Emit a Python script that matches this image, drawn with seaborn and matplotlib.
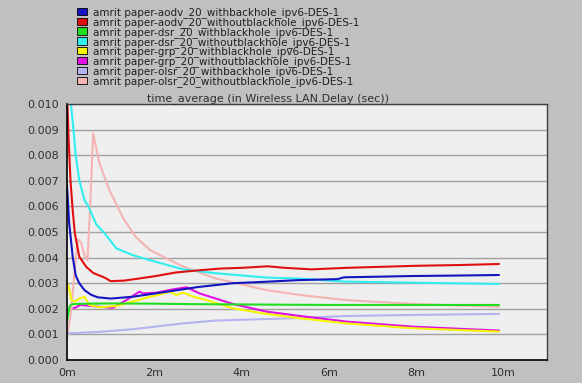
import numpy as np
import pandas as pd
import matplotlib
matplotlib.use("Agg")
import matplotlib.pyplot as plt
from matplotlib.patches import Patch
import seaborn as sns

# simulation time in minutes, delay in milliseconds (scaled to sec below)
aodv_with_t = [0, 0.05, 0.13, 0.2, 0.28, 0.4, 0.55, 0.7, 1.0, 1.5, 2.3, 3.0, 3.8, 4.6, 5.3, 6.2, 6.35, 7.0, 7.9, 9.0, 9.9]
aodv_with_v = [6.84, 5.35, 4.04, 3.3, 3.0, 2.73, 2.55, 2.45, 2.4, 2.47, 2.67, 2.85, 3.0, 3.06, 3.12, 3.16, 3.23, 3.25, 3.28, 3.3, 3.32]

aodv_without_t = [0, 0.04, 0.08, 0.13, 0.18, 0.28, 0.44, 0.6, 0.86, 1.0, 1.3, 1.6, 2.0, 2.5, 3.0, 3.5, 4.0, 4.6, 5.0, 5.6, 6.4, 7.0, 8.0, 9.0, 9.9]
aodv_without_v = [10.5, 8.5, 7.0, 5.86, 4.95, 4.04, 3.64, 3.4, 3.22, 3.08, 3.1, 3.17, 3.27, 3.42, 3.5, 3.57, 3.6, 3.66, 3.6, 3.54, 3.6, 3.63, 3.68, 3.71, 3.75]

dsr_with_t = [0, 0.03, 0.06, 0.1, 0.2, 0.5, 1.0, 2.0, 3.0, 4.0, 5.0, 6.0, 7.0, 8.0, 9.0, 9.9]
dsr_with_v = [1.5, 1.8, 2.1, 2.17, 2.19, 2.2, 2.21, 2.2, 2.18, 2.17, 2.16, 2.15, 2.15, 2.15, 2.15, 2.15]

dsr_without_t = [0.07, 0.09, 0.15, 0.2, 0.28, 0.4, 0.49, 0.67, 0.86, 1.13, 1.5, 1.9, 2.66, 3.4, 4.57, 5.34, 6.4, 7.94, 9.9]
dsr_without_v = [10.5, 10.0, 8.98, 8.0, 7.03, 6.25, 6.0, 5.3, 4.95, 4.36, 4.1, 3.9, 3.54, 3.39, 3.22, 3.18, 3.06, 3.02, 2.97]

grp_with_t = [0, 0.05, 0.1, 0.17, 0.28, 0.4, 0.51, 0.74, 1.13, 1.5, 1.9, 2.1, 2.35, 2.5, 2.66, 2.9, 3.2, 3.8, 4.57, 5.34, 6.4, 7.94, 9.9]
grp_with_v = [3.0, 2.8, 2.35, 2.28, 2.4, 2.47, 2.15, 2.06, 2.11, 2.28, 2.47, 2.54, 2.67, 2.54, 2.63, 2.47, 2.34, 2.02, 1.8, 1.63, 1.43, 1.24, 1.11]

grp_without_t = [0.15, 0.2, 0.3, 0.5, 0.74, 1.05, 1.36, 1.66, 1.74, 2.05, 2.43, 2.74, 3.04, 3.8, 4.57, 5.34, 6.4, 7.94, 9.9]
grp_without_v = [2.03, 2.05, 2.15, 2.12, 2.08, 2.04, 2.34, 2.67, 2.6, 2.63, 2.76, 2.84, 2.6, 2.19, 1.89, 1.72, 1.5, 1.3, 1.15]

olsr_with_t = [0, 0.74, 1.5, 1.9, 2.66, 3.4, 4.57, 5.34, 6.4, 7.94, 9.9]
olsr_with_v = [1.04, 1.1, 1.2, 1.28, 1.43, 1.54, 1.6, 1.64, 1.72, 1.76, 1.8]

olsr_without_t = [0, 0.03, 0.08, 0.12, 0.18, 0.25, 0.32, 0.4, 0.47, 0.53, 0.6, 0.74, 0.97, 1.3, 1.58, 1.9, 2.66, 3.4, 4.57, 5.34, 6.4, 7.94, 9.9]
olsr_without_v = [0.8, 1.2, 1.7, 2.4, 3.6, 4.7, 4.6, 4.1, 3.9, 6.0, 8.85, 7.7, 6.64, 5.5, 4.8, 4.3, 3.65, 3.19, 2.73, 2.54, 2.34, 2.19, 2.08]

labels = [
    "amrit paper-aodv_20_withbackhole_ipv6-DES-1",
    "amrit paper-aodv_20_withoutblackhole_ipv6-DES-1",
    "amrit paper-dsr_20_withblackhole_ipv6-DES-1",
    "amrit paper-dsr_20_withoutblackhole_ipv6-DES-1",
    "amrit paper-grp_20_withblackhole_ipv6-DES-1",
    "amrit paper-grp_20_withoutblackhole_ipv6-DES-1",
    "amrit paper-olsr_20_withbackhole_ipv6-DES-1",
    "amrit paper-olsr_20_withoutblackhole_ipv6-DES-1",
]
colors = ["#1414c0", "#e01010", "#20dd20", "#30eeee", "#f5f500", "#e010e0", "#b4b4f0", "#f4b4b4"]

series = [
    (aodv_with_t, aodv_with_v), (aodv_without_t, aodv_without_v),
    (dsr_with_t, dsr_with_v), (dsr_without_t, dsr_without_v),
    (grp_with_t, grp_with_v), (grp_without_t, grp_without_v),
    (olsr_with_t, olsr_with_v), (olsr_without_t, olsr_without_v),
]

frames = []
for lab, (t, v) in zip(labels, series):
    frames.append(pd.DataFrame({"t": t, "delay": np.array(v) / 1000.0, "series": lab}))
df = pd.concat(frames, ignore_index=True)

sns.set_style("white")
plt.rcParams["font.family"] = ["DejaVu Sans"]

fig = plt.figure(figsize=(5.82, 3.83), dpi=100, facecolor="#c0c0c0")
ax = fig.add_axes([67 / 582, 1 - 360 / 383, 480 / 582, 256 / 383])
ax.set_facecolor("#efefef")

# draw back-to-front so the first series ends up on top
for lab, col in list(zip(labels, colors))[::-1]:
    sns.lineplot(data=df[df["series"] == lab], x="t", y="delay", color=col,
                 linewidth=1.5, ax=ax, legend=False, estimator=None, sort=False)

ax.set_xlim(0, 11)
ax.set_ylim(0, 0.010)
ax.set_yticks(np.arange(0, 0.0101, 0.001))
ax.set_yticklabels([f"{y:.3f}" for y in np.arange(0, 0.0101, 0.001)])
ax.set_xticks([0, 2, 4, 6, 8, 10])
ax.set_xticklabels(["0m", "2m", "4m", "6m", "8m", "10m"])
ax.tick_params(axis="both", labelsize=8, colors="#303030", length=4, width=0.8, direction="out", pad=1.5)
ax.yaxis.grid(True, color="#a0a0a0", linewidth=1.0)
ax.set_axisbelow(True)
ax.set_xlabel("")
ax.set_ylabel("")
for side in ["left", "bottom"]:
    ax.spines[side].set_color("black")
    ax.spines[side].set_linewidth(1.2)
for side in ["top", "right"]:
    ax.spines[side].set_color("#404040")
    ax.spines[side].set_linewidth(1.0)

fig.text(268 / 582, 1 - 99 / 383, "time_average (in Wireless LAN.Delay (sec))",
         ha="center", va="center", fontsize=8, color="#303030")

handles = [Patch(facecolor=c, edgecolor="black", linewidth=0.6) for c in colors]
fig.legend(handles, labels, loc="upper left", bbox_to_anchor=(77 / 582, 1 - 7 / 383),
           frameon=False, fontsize=7.5, labelspacing=-0.1, handlelength=0.95,
           handleheight=0.7, handletextpad=0.6, borderaxespad=0, borderpad=0,
           labelcolor="#202020")

fig.savefig("out.png", dpi=100, facecolor=fig.get_facecolor())
